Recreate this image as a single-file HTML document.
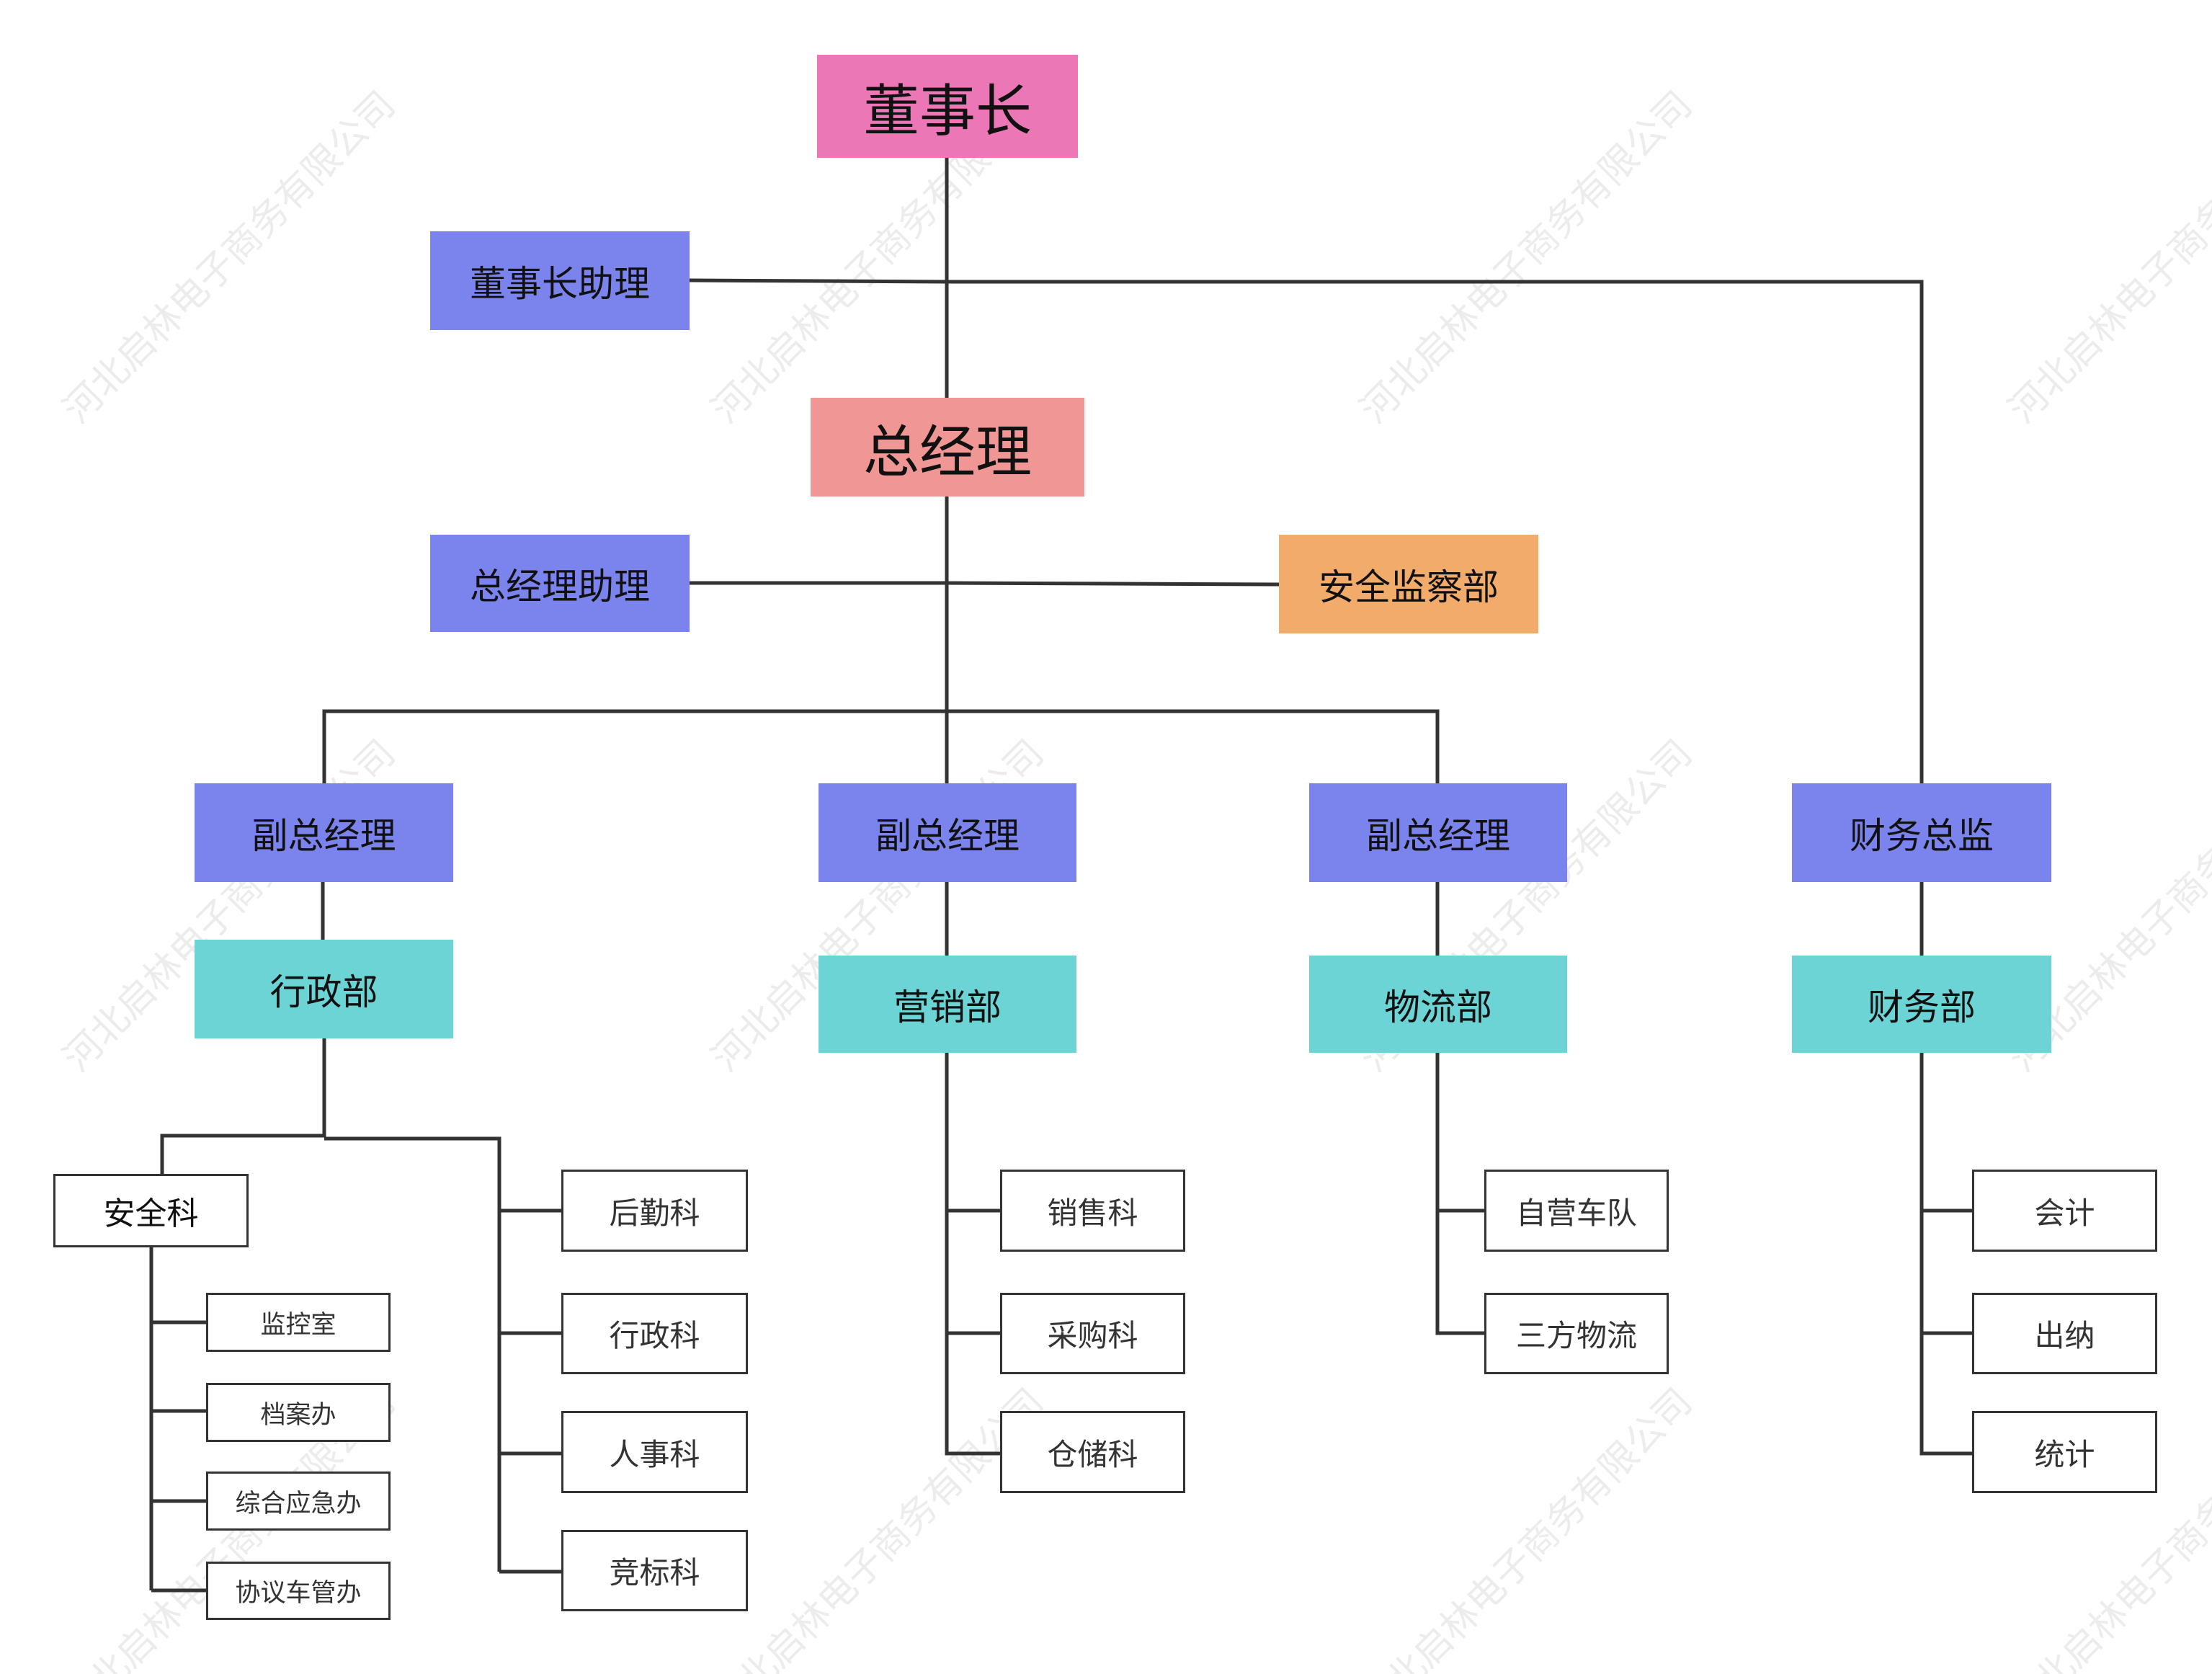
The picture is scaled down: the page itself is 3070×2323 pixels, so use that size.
<!DOCTYPE html>
<html><head><meta charset="utf-8"><style>
html,body{margin:0;padding:0;background:#fff}
body{width:3070px;height:2323px;position:relative;overflow:hidden;font-family:"Liberation Sans","Noto Sans CJK SC",sans-serif}
.b{position:absolute;display:flex;align-items:center;justify-content:center;color:#111;box-sizing:border-box}
.l{border:3px solid #333;background:#fff;color:#333;font-size:42px}
.s{font-size:35px}
.bl{background:#7b84ec;font-size:50px}
.tl{background:#6dd4d6;font-size:50px}
svg{position:absolute;left:0;top:0}
</style></head><body>
<svg width="3070" height="2323">
<g fill="#ececec" font-family="Liberation Sans, Noto Sans CJK SC, sans-serif" font-size="52">
<text transform="translate(110,590) rotate(-45)">河北启林电子商务有限公司</text>
<text transform="translate(1010,590) rotate(-45)">河北启林电子商务有限公司</text>
<text transform="translate(1910,590) rotate(-45)">河北启林电子商务有限公司</text>
<text transform="translate(2810,590) rotate(-45)">河北启林电子商务有限公司</text>
<text transform="translate(110,1490) rotate(-45)">河北启林电子商务有限公司</text>
<text transform="translate(1010,1490) rotate(-45)">河北启林电子商务有限公司</text>
<text transform="translate(1910,1490) rotate(-45)">河北启林电子商务有限公司</text>
<text transform="translate(2810,1490) rotate(-45)">河北启林电子商务有限公司</text>
<text transform="translate(110,2390) rotate(-45)">河北启林电子商务有限公司</text>
<text transform="translate(1010,2390) rotate(-45)">河北启林电子商务有限公司</text>
<text transform="translate(1910,2390) rotate(-45)">河北启林电子商务有限公司</text>
<text transform="translate(2810,2390) rotate(-45)">河北启林电子商务有限公司</text>
</g>
<g stroke="#333" stroke-width="5" fill="none">
<path d="M1314 219V1087"/>
<path d="M957 389L1314 391H2667V1087"/>
<path d="M957 809H1314L1775 811"/>
<path d="M450 1087V987H1995V1087"/>
<path d="M448 1224V1304M1314 1224V1326M1995 1224V1326M2667 1224V1326"/>
<path d="M450 1441V1578M225 1629V1576H450M450 1580H693V2181"/>
<path d="M693 1680H779M693 1850H779M693 2017H779M693 2181H779"/>
<path d="M210 1731V2207M210 1835H286M210 1958H286M210 2083H286M210 2207H286"/>
<path d="M1314 1461V2017H1388M1314 1680H1388M1314 1850H1388"/>
<path d="M1995 1461V1850H2060M1995 1680H2060"/>
<path d="M2667 1461V2017H2737M2667 1680H2737M2667 1850H2737"/>
</g>
</svg>
<div class="b" style="left:1134px;top:76px;width:362px;height:143px;background:#ec77b6;font-size:78px">董事长</div>
<div class="b" style="left:1125px;top:552px;width:380px;height:137px;background:#f09795;font-size:78px">总经理</div>
<div class="b bl" style="left:597px;top:321px;width:360px;height:137px">董事长助理</div>
<div class="b bl" style="left:597px;top:742px;width:360px;height:135px">总经理助理</div>
<div class="b" style="left:1775px;top:742px;width:360px;height:137px;background:#f1ab6a;font-size:50px">安全监察部</div>
<div class="b bl" style="left:270px;top:1087px;width:359px;height:137px">副总经理</div>
<div class="b bl" style="left:1136px;top:1087px;width:358px;height:137px">副总经理</div>
<div class="b bl" style="left:1817px;top:1087px;width:358px;height:137px">副总经理</div>
<div class="b bl" style="left:2487px;top:1087px;width:360px;height:137px">财务总监</div>
<div class="b tl" style="left:270px;top:1304px;width:359px;height:137px">行政部</div>
<div class="b tl" style="left:1136px;top:1326px;width:358px;height:135px">营销部</div>
<div class="b tl" style="left:1817px;top:1326px;width:358px;height:135px">物流部</div>
<div class="b tl" style="left:2487px;top:1326px;width:360px;height:135px">财务部</div>
<div class="b l" style="left:74px;top:1629px;width:271px;height:102px;font-size:44px;color:#111">安全科</div>
<div class="b l s" style="left:286px;top:1794px;width:256px;height:82px">监控室</div>
<div class="b l s" style="left:286px;top:1919px;width:256px;height:82px">档案办</div>
<div class="b l s" style="left:286px;top:2042px;width:256px;height:82px">综合应急办</div>
<div class="b l s" style="left:286px;top:2167px;width:256px;height:81px">协议车管办</div>
<div class="b l" style="left:779px;top:1623px;width:259px;height:114px">后勤科</div>
<div class="b l" style="left:779px;top:1794px;width:259px;height:113px">行政科</div>
<div class="b l" style="left:779px;top:1958px;width:259px;height:114px">人事科</div>
<div class="b l" style="left:779px;top:2123px;width:259px;height:113px">竞标科</div>
<div class="b l" style="left:1388px;top:1623px;width:257px;height:114px">销售科</div>
<div class="b l" style="left:1388px;top:1794px;width:257px;height:113px">采购科</div>
<div class="b l" style="left:1388px;top:1958px;width:257px;height:114px">仓储科</div>
<div class="b l" style="left:2060px;top:1623px;width:256px;height:114px">自营车队</div>
<div class="b l" style="left:2060px;top:1794px;width:256px;height:113px">三方物流</div>
<div class="b l" style="left:2737px;top:1623px;width:257px;height:114px">会计</div>
<div class="b l" style="left:2737px;top:1794px;width:257px;height:113px">出纳</div>
<div class="b l" style="left:2737px;top:1958px;width:257px;height:114px">统计</div>
</body></html>
